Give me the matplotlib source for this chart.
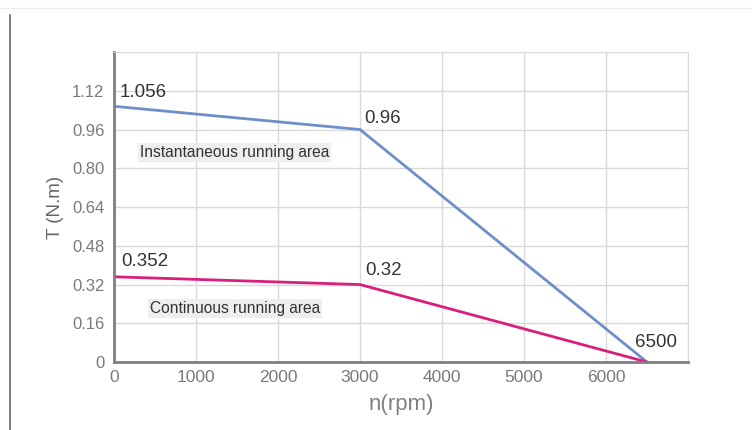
import matplotlib
matplotlib.use('Agg')
import matplotlib.pyplot as plt
from matplotlib.lines import Line2D

# data
speed = [0, 3000, 6500]
torque_instant = [1.056, 0.96, 0]
torque_cont = [0.352, 0.32, 0]
y_ticks = [0, 0.16, 0.32, 0.48, 0.64, 0.80, 0.96, 1.12]
y_tick_labels = ['0', '0.16', '0.32', '0.48', '0.64', '0.80', '0.96', '1.12']
x_ticks = [0, 1000, 2000, 3000, 4000, 5000, 6000]
point_labels = ['1.056', '0.96', '0.352', '0.32', '6500']

plt.rcParams['font.family'] = ['Liberation Sans', 'DejaVu Sans']

fig = plt.figure(figsize=(7.52, 4.3), dpi=100)
ax = fig.add_axes([0.1516, 0.158, 0.7633, 0.721])

ax.plot(speed, torque_instant, color='#6f8fcb', lw=2)
ax.plot(speed, torque_cont, color='#d81f7c', lw=2)

ax.set_xlim(0, 7000)
ax.set_ylim(0, 1.28)
ax.set_xticks(x_ticks + [7000])
ax.set_xticklabels([str(v) for v in x_ticks] + [''])
ax.set_yticks(y_ticks + [1.28])
ax.set_yticklabels(y_tick_labels + [''])
ax.grid(True, color='#d9d9d9', lw=1)
ax.set_axisbelow(True)
ax.tick_params(length=0, colors='#7a7a7a', pad=7)
ax.tick_params(axis='x', labelsize=12.5, pad=6)
ax.tick_params(axis='y', labelsize=12)

for side in ['top', 'right']:
    ax.spines[side].set_color('#d9d9d9')
for side in ['left', 'bottom']:
    ax.spines[side].set_color('#7f7f7f')
    ax.spines[side].set_linewidth(2)

ax.set_xlabel('n(rpm)', fontsize=16, color='#808080', labelpad=6)
ax.set_ylabel('T (N.m)', fontsize=13.5, color='#666666', labelpad=6)

# value labels beside the corner points
pts = [(speed[0], torque_instant[0]), (speed[1], torque_instant[1]),
       (speed[0], torque_cont[0]), (speed[1], torque_cont[1]),
       (speed[2], torque_cont[2])]
offsets = [(6, 14), (4, 11), (7, 15), (5, 14), (-12, 20)]
for (px, py), txt, off in zip(pts, point_labels, offsets):
    ax.annotate(txt, (px, py), xytext=off, textcoords='offset pixels',
                ha='left', va='center', fontsize=13.5, color='#333333')

ax.text(317, 0.866, 'Instantaneous running area', fontsize=11.2,
        color='#333333', va='center', ha='left',
        bbox=dict(facecolor='#eeeeee', edgecolor='none', pad=1.5))
ax.text(439, 0.223, 'Continuous running area', fontsize=11.2,
        color='#333333', va='center', ha='left',
        bbox=dict(facecolor='#eeeeee', edgecolor='none', pad=1.5))

# frame lines of the original picture
fig.add_artist(Line2D([10 / 752, 10 / 752], [0, 415 / 430],
                      color='#666666', lw=1.2, transform=fig.transFigure))
fig.add_artist(Line2D([0, 1], [422 / 430, 422 / 430],
                      color='#eeeeee', lw=1, transform=fig.transFigure))

fig.savefig('out.png', dpi=100)
